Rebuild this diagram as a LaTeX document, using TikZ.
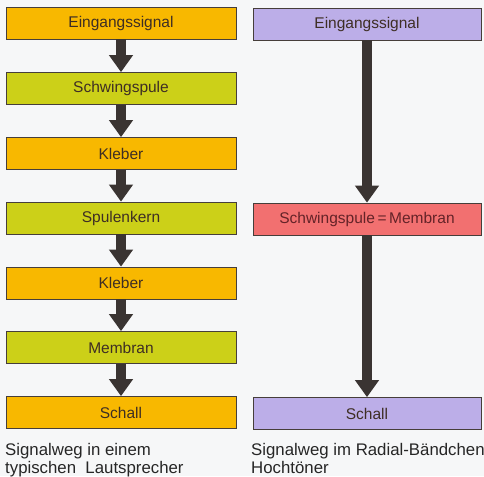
\documentclass[tikz,border=0pt]{standalone}
\usepackage{fontspec}
\setmainfont{Liberation Sans}
\usetikzlibrary{arrows.meta}
\definecolor{bg}{RGB}{246,247,248}
\definecolor{orng}{RGB}{248,184,0}
\definecolor{ygrn}{RGB}{204,208,24}
\definecolor{lav}{RGB}{188,174,232}
\definecolor{rosy}{RGB}{242,112,112}
\definecolor{edge}{RGB}{70,62,58}
\definecolor{txt}{RGB}{62,46,36}
\definecolor{arr}{RGB}{58,52,50}
\tikzset{
  x=1pt, y=-1pt,
  box/.style={draw=edge, line width=0.7pt, minimum width=230pt, minimum height=32pt,
    inner sep=0pt, font=\fontsize{15.5}{17}\selectfont, text=txt},
  lbox/.style={box, minimum width=230pt},
  rbox/.style={box, minimum width=228pt},
  flow/.style={arr, line width=10pt, -{Triangle[width=23pt,length=17pt]}},
  captext/.style={anchor=north west, align=left, inner sep=0pt, font=\fontsize{16.8}{18}\selectfont, text=black!85}
}
\begin{document}
\begin{tikzpicture}
\fill[bg] (0,0) rectangle (484,476);
\useasboundingbox (0,0) rectangle (484,476);
% left column
\node[lbox, fill=orng] (l1) at (121,23) {Eingangssignal};
\node[lbox, fill=ygrn] (l2) at (121,88.5) {Schwingspule};
\node[lbox, fill=orng] (l3) at (121,153.5) {Kleber};
\node[lbox, fill=ygrn] (l4) at (121,218) {Spulenkern};
\node[lbox, fill=orng] (l5) at (121,283) {Kleber};
\node[lbox, fill=ygrn] (l6) at (121,347.5) {Membran};
\node[lbox, fill=orng] (l7) at (121,412.5) {Schall};
\foreach \a/\b in {l1/l2,l2/l3,l3/l4,l4/l5,l5/l6,l6/l7}
  \draw[flow] (\a.south) -- (\b.north);
% right column
\node[rbox, fill=lav] (r1) at (367,24) {Eingangssignal};
\node[rbox, fill=rosy, text={rgb,255:red,100;green,35;blue,40}] (r2) at (367,219) {Schwingspule\,=\,Membran};
\node[rbox, fill=lav] (r3) at (367,413.5) {Schall};
\draw[flow] (r1.south) -- (r2.north);
\draw[flow] (r2.south) -- (r3.north);
% captions
\node[captext] (c1) at (5,443) {Signalweg in einem\\typischen\ \ Lautsprecher};
\node[captext] (c2) at (251,443) {Signalweg im Radial-Bändchen\\Hochtöner};
\end{tikzpicture}
\end{document}
